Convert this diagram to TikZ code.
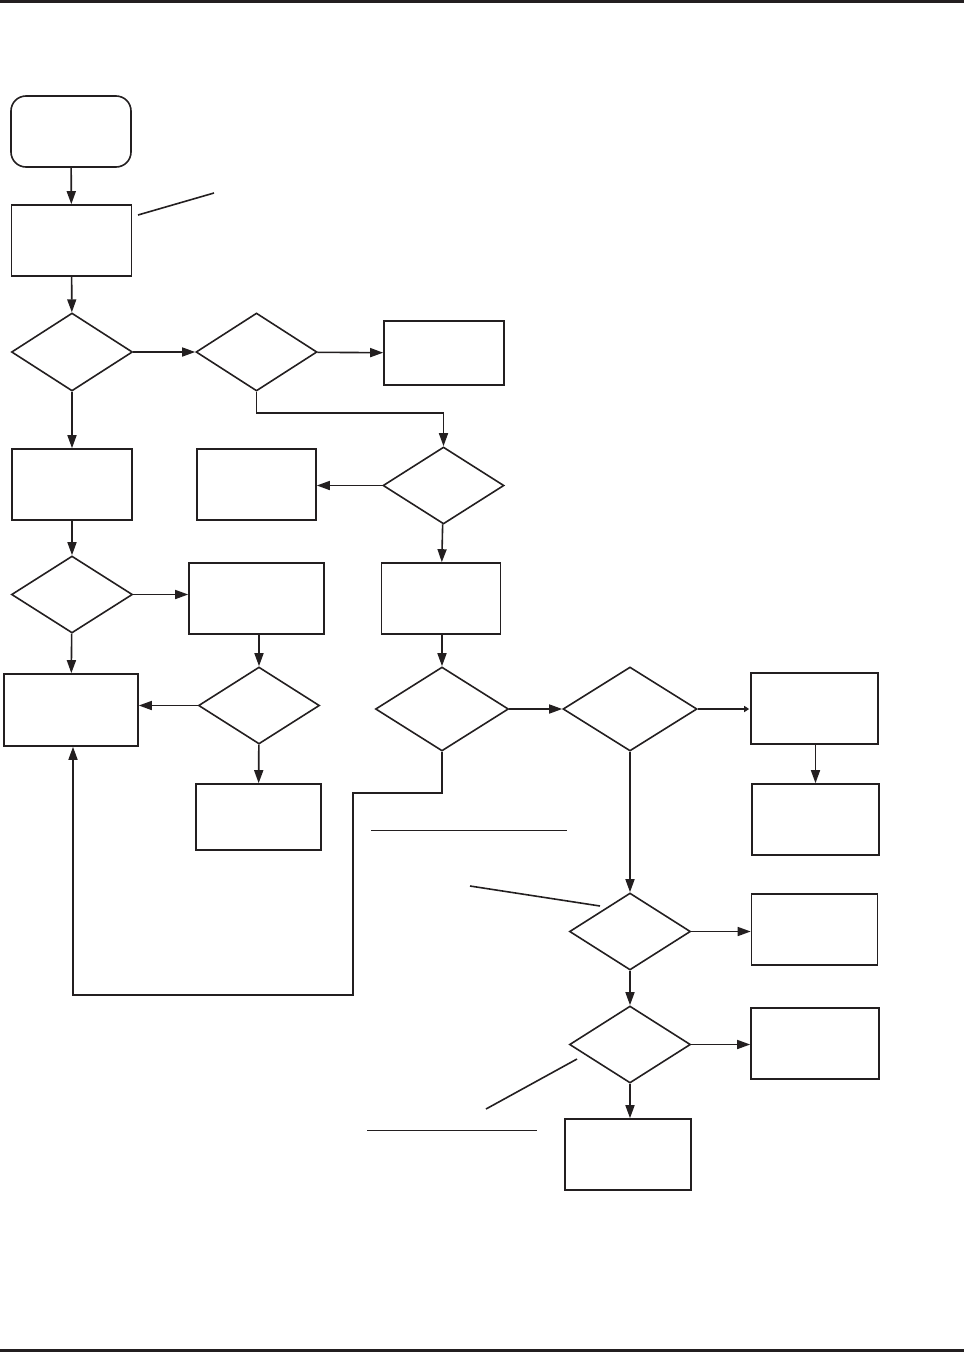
\documentclass[tikz,border=0pt]{standalone}
\usepackage{tikz}
\usetikzlibrary{arrows.meta}
\usetikzlibrary{shapes.geometric}
\definecolor{ink}{RGB}{35,31,32}
\tikzset{
    flowline/.style={draw=ink, line width=1.6pt},
    flowarrow/.style={flowline, -{Triangle[length=13pt, width=9pt]}},
    smallarrow/.style={flowline, -{Triangle[length=5pt, width=6pt]}, shorten >=1pt},
    procbox/.style={rectangle, draw=ink, line width=1.6pt, inner sep=0pt},
    startbox/.style={rectangle, rounded corners=15pt, draw=ink, line width=1.6pt, inner sep=0pt, minimum width=120pt, minimum height=71pt},
    decision/.style={diamond, draw=ink, line width=1.6pt, inner sep=0pt}
}

\begin{document}
\begin{tikzpicture}[x=1pt, y=-1pt]

		\useasboundingbox (0,0) rectangle (964,1352);

		\draw[ink, line width=3pt] (0,1.5) -- (964,1.5);
		\draw[ink, line width=2.5pt] (0,1350.5) -- (964,1350.5);

		\def\wproc{120pt}
		\def\hproc{71pt}
		\def\wdec{121pt}
		\def\hdec{77pt}

		% left column
		\node[startbox] (start) at (71,131.5) {};
		\node[procbox, minimum width=\wproc, minimum height=\hproc] (check) at (71.5,240.5) {};
		\node[decision, minimum width=\wdec, minimum height=78pt] (askA) at (72,352) {};
		\node[procbox, minimum width=\wproc, minimum height=\hproc] (stepA) at (72,484.5) {};
		\node[decision, minimum width=\wdec, minimum height=\hdec] (askB) at (72,594.5) {};
		\node[procbox, minimum width=134pt, minimum height=72pt] (stepB) at (71,710) {};

		% second column
		\node[decision, minimum width=\wdec, minimum height=78pt] (askC) at (256.5,352) {};
		\node[procbox, minimum width=119pt, minimum height=\hproc] (endC) at (256.5,484.5) {};
		\node[procbox, minimum width=135pt, minimum height=\hproc] (stepD) at (256.5,598.5) {};
		\node[decision, minimum width=\wdec, minimum height=\hdec] (askD) at (259,705.5) {};
		\node[procbox, minimum width=125pt, minimum height=66pt] (endD) at (258.5,817) {};

		% third column
		\node[procbox, minimum width=\wproc, minimum height=64pt] (endA) at (444,353) {};
		\node[decision, minimum width=\wdec, minimum height=\hdec] (askE) at (443.5,485.5) {};
		\node[procbox, minimum width=119pt, minimum height=\hproc] (stepE) at (441,598.5) {};
		\node[decision, minimum width=133pt, minimum height=84pt] (askF) at (442,709) {};

		% fourth column
		\node[decision, minimum width=134pt, minimum height=84pt] (askG) at (630,709) {};
		\node[decision, minimum width=\wdec, minimum height=\hdec] (askH) at (630,931.5) {};
		\node[decision, minimum width=\wdec, minimum height=\hdec] (askI) at (630,1044.5) {};
		\node[procbox, minimum width=126pt, minimum height=\hproc] (endI) at (628,1154.5) {};

		% right column
		\node[procbox, minimum width=127pt, minimum height=\hproc] (stepG) at (814.5,708.5) {};
		\node[procbox, minimum width=127pt, minimum height=\hproc] (endG) at (815.5,819.5) {};
		\node[procbox, minimum width=126pt, minimum height=\hproc] (endH) at (814.5,929.5) {};
		\node[procbox, minimum width=128pt, minimum height=\hproc] (endJ) at (815,1043.5) {};

		\draw[flowarrow] (start) -- (check);
		\draw[flowarrow] (check) -- (askA);
		\draw[flowarrow] (askA) -- (askC);
		\draw[flowarrow] (askC) -- (endA);
		\draw[flowarrow] (askA) -- (stepA);
		\draw[flowarrow] (askC.south) -- ++(0,21) -| (askE.north);
		\draw[flowarrow] (askE) -- (askE -| endC.east);
		\draw[flowarrow] (stepA) -- (askB);
		\draw[flowarrow] (askB.east) -- (askB.east -| stepD.west);
		\draw[flowarrow] (askB) -- (stepB);
		\draw[flowarrow] (askE) -- (stepE);
		\draw[flowarrow] (stepE.south -| askF) -- (askF);
		\draw[flowarrow] (stepD.south -| askD) -- (askD);
		\draw[flowarrow] (askD.west) -- (askD.west -| stepB.east);
		\draw[flowarrow] (askD) -- (endD);
		\draw[flowarrow] (askF) -- (askG);
		\draw[smallarrow] (askG.east) -- (askG.east -| stepG.west);
		\draw[flowarrow] (stepG.south -| endG) -- (endG);
		\draw[flowarrow] (askG) -- (askH);
		\draw[flowarrow] (askH.east) -- (askH.east -| endH.west);
		\draw[flowarrow] (askH) -- (askI);
		\draw[flowarrow] (askI.east) -- (askI.east -| endJ.west);
		\draw[flowarrow] (askI.south) -- (askI.south |- endI.north);

		\coordinate (loopA) at (353,793);
		\coordinate (loopB) at (353,995);
		\draw[flowarrow] (askF.south) |- (loopA) -- (loopB) -| ([xshift=2pt]stepB.south);

		% leader lines
		\coordinate (leadA) at (138,215);
		\coordinate (leadB) at (214,193);
		\coordinate (leadC) at (470,886);
		\coordinate (leadD) at (600,906);
		\coordinate (leadE) at (577,1059);
		\coordinate (leadF) at (486,1109);
		\draw[flowline] (leadA) -- (leadB);
		\draw[flowline] (leadC) -- (leadD);
		\draw[flowline] (leadE) -- (leadF);
		\draw[flowline] (371,830.5) -- (567,830.5);
		\draw[flowline] (367,1130.5) -- (537,1130.5);

	\end{tikzpicture}
\end{document}
